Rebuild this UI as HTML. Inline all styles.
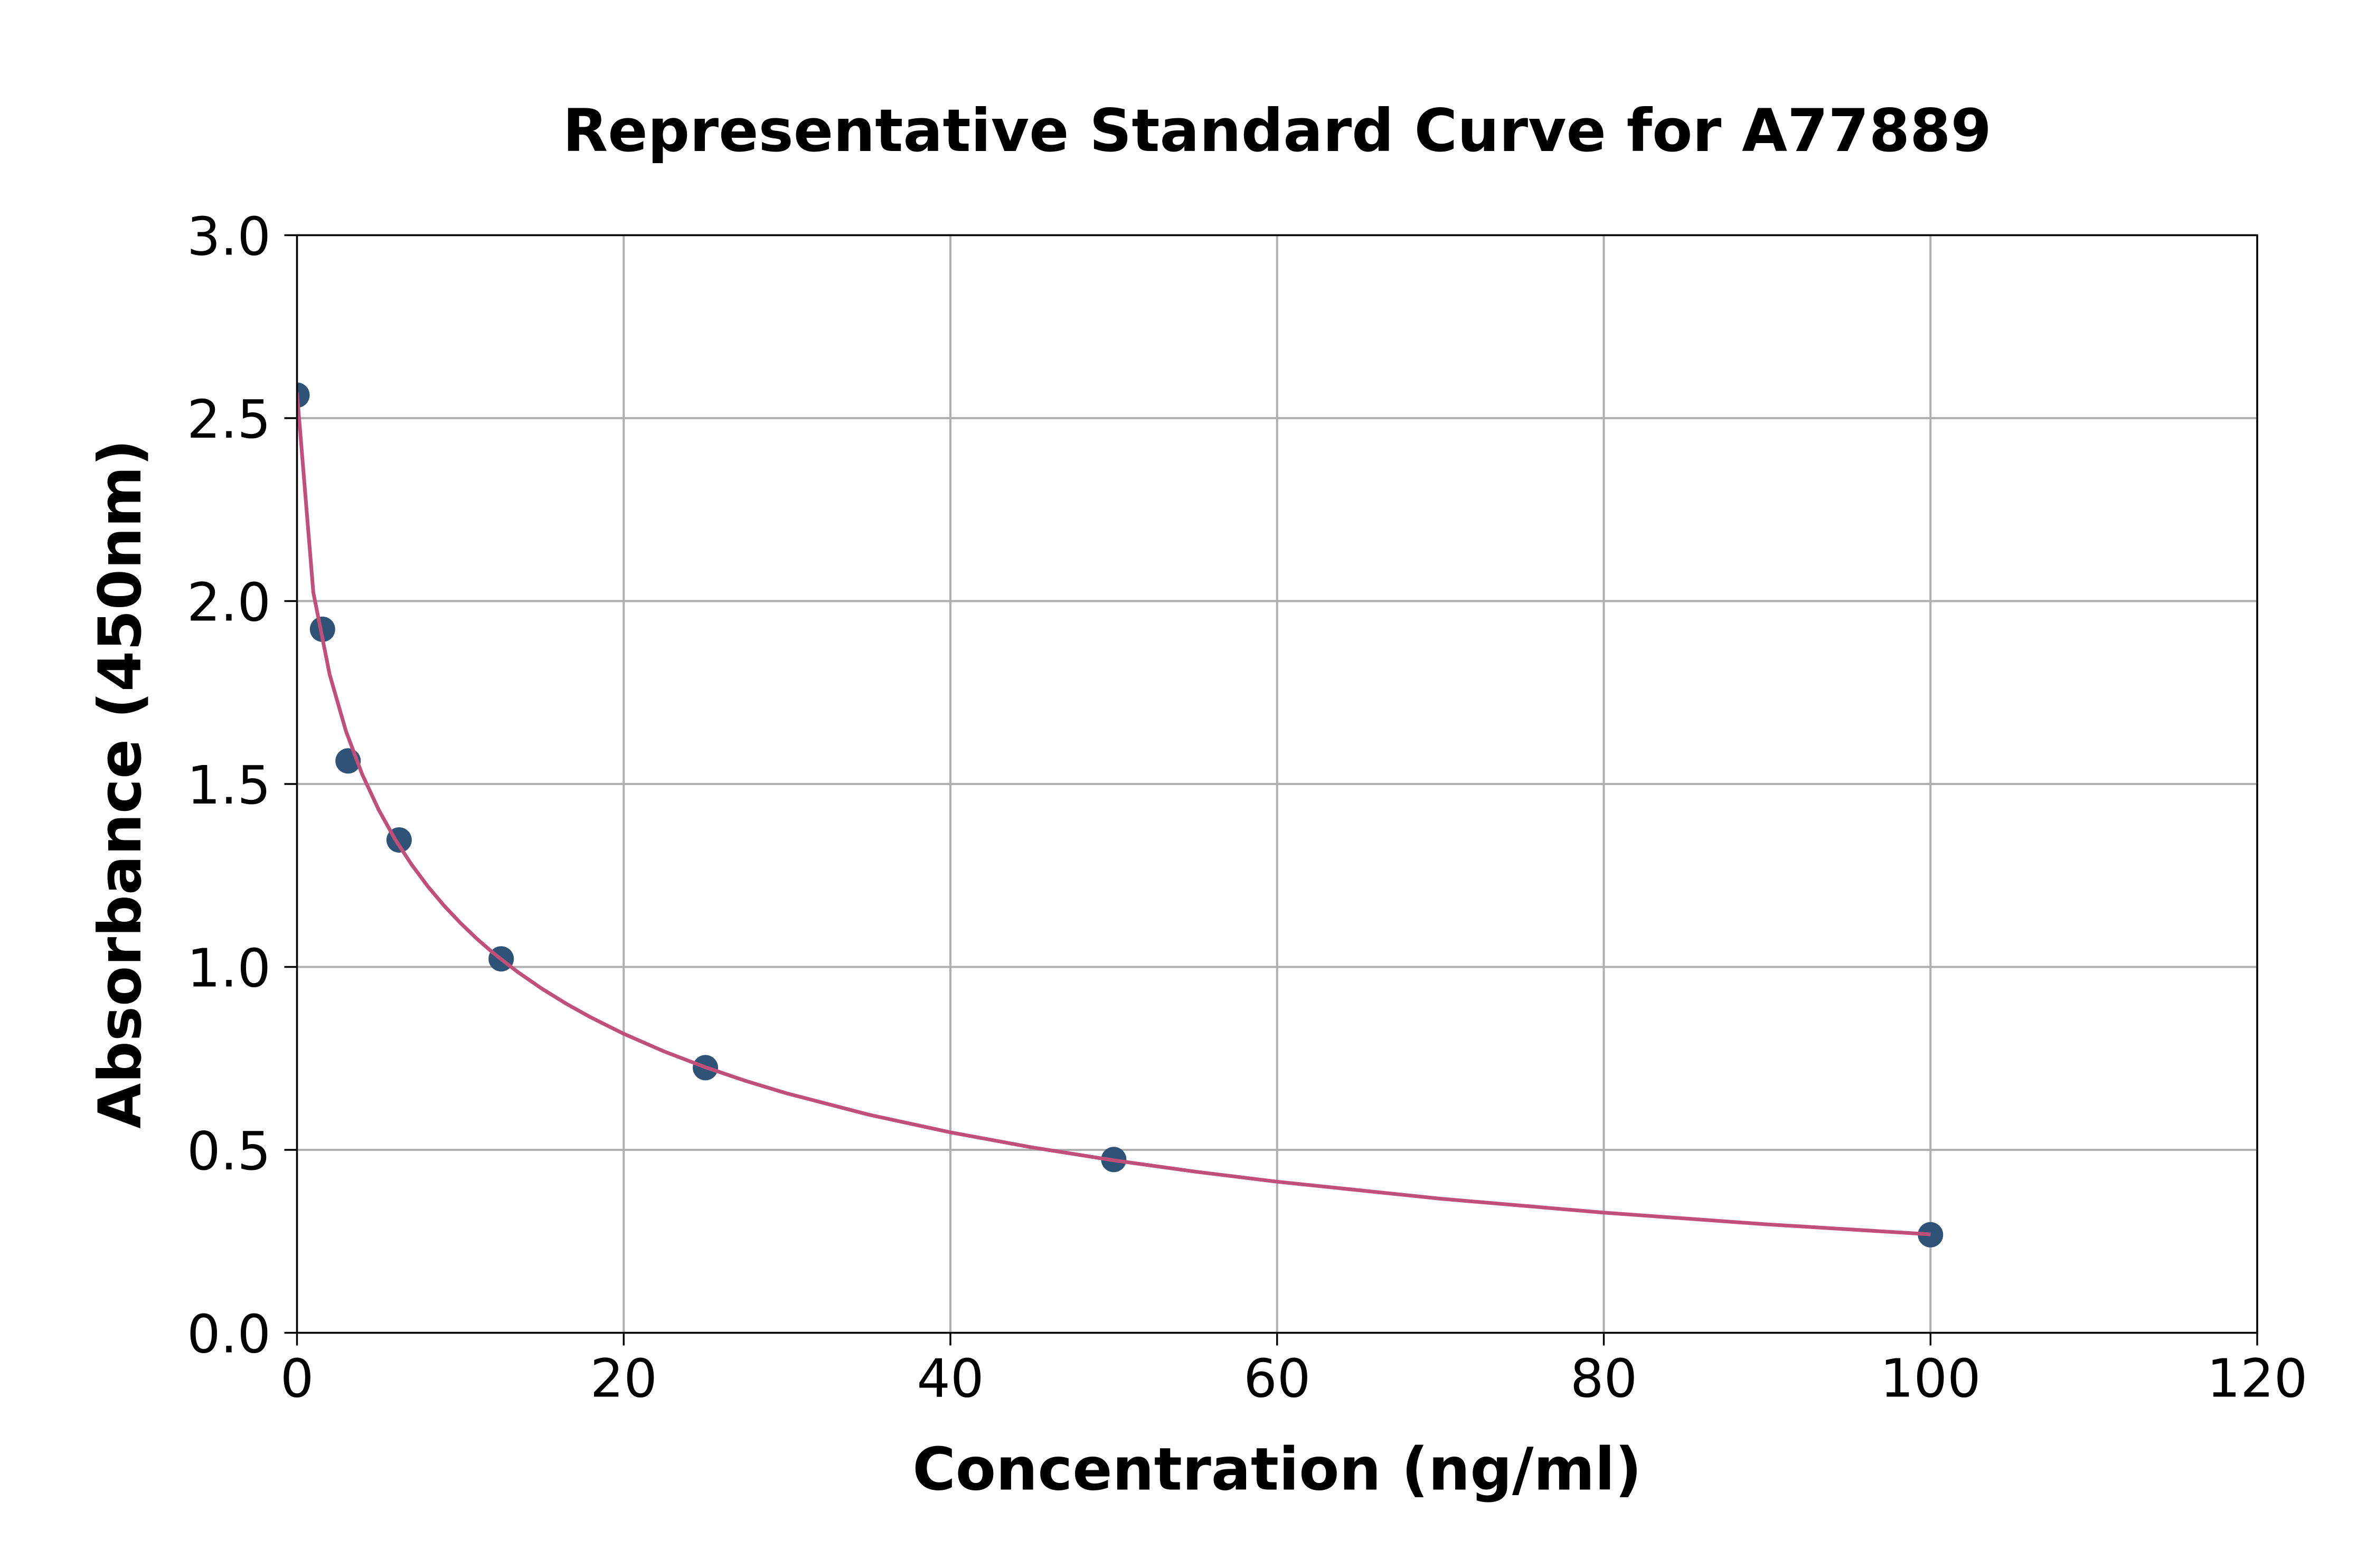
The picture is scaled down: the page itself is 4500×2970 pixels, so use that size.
<!DOCTYPE html>
<html>
<head>
<meta charset="utf-8">
<style>
  html, body { margin: 0; padding: 0; background: #ffffff; }
  body { width: 4500px; height: 2970px; overflow: hidden; }
  svg { display: block; }
  text { font-family: "DejaVu Sans", "Liberation Sans", sans-serif; fill: #000; }
</style>
</head>
<body>
<svg width="4500" height="2970" viewBox="0 0 4500 2970" xmlns="http://www.w3.org/2000/svg">
  <rect x="0" y="0" width="4500" height="2970" fill="#ffffff"/>
  <defs>
    <clipPath id="plot">
      <rect x="562.5" y="445.5" width="3712.5" height="2079"/>
    </clipPath>
  </defs>

  <!-- grid -->
  <g stroke="#afafaf" stroke-width="4" fill="none">
    <line x1="562.5" y1="445.5" x2="562.5" y2="2524.5"/>
    <line x1="1181.25" y1="445.5" x2="1181.25" y2="2524.5"/>
    <line x1="1800" y1="445.5" x2="1800" y2="2524.5"/>
    <line x1="2418.75" y1="445.5" x2="2418.75" y2="2524.5"/>
    <line x1="3037.5" y1="445.5" x2="3037.5" y2="2524.5"/>
    <line x1="3656.25" y1="445.5" x2="3656.25" y2="2524.5"/>
    <line x1="4275" y1="445.5" x2="4275" y2="2524.5"/>
    <line x1="562.5" y1="2524.5" x2="4275" y2="2524.5"/>
    <line x1="562.5" y1="2178" x2="4275" y2="2178"/>
    <line x1="562.5" y1="1831.5" x2="4275" y2="1831.5"/>
    <line x1="562.5" y1="1485" x2="4275" y2="1485"/>
    <line x1="562.5" y1="1138.5" x2="4275" y2="1138.5"/>
    <line x1="562.5" y1="792" x2="4275" y2="792"/>
    <line x1="562.5" y1="445.5" x2="4275" y2="445.5"/>
  </g>

  <!-- data markers -->
  <g clip-path="url(#plot)" fill="#2f5377">
    <circle cx="562.5" cy="748.4" r="24"/>
    <circle cx="610.8" cy="1191.9" r="24"/>
    <circle cx="659.2" cy="1441.3" r="24"/>
    <circle cx="755.9" cy="1591.0" r="24"/>
    <circle cx="949.2" cy="1816.2" r="24"/>
    <circle cx="1336.0" cy="2022.3" r="24"/>
    <circle cx="2109.4" cy="2196.3" r="24"/>
    <circle cx="3656.25" cy="2338.8" r="24"/>
  </g>

  <!-- fitted curve -->
  <polyline clip-path="url(#plot)" fill="none" stroke="#c0507a" stroke-width="7" stroke-linejoin="round" stroke-linecap="butt"
    points="562.5,743.5 593.4,1122.2 624.4,1277.8 655.3,1385.1 686.25,1467.3 717.2,1533.8 748.1,1589.4 779.1,1637.0 810.0,1678.6 840.9,1715.3 871.9,1748.1 902.8,1777.8 933.75,1804.7 980.2,1840.9 1026.6,1872.9 1073.0,1901.5 1119.4,1927.3 1181.25,1958.1 1258.6,1991.9 1336.0,2021.5 1413.3,2047.7 1490.6,2071.1 1645.3,2111.3 1800,2144.8 1954.7,2173.3 2109.4,2197.8 2264.1,2219.3 2418.75,2238.3 2728.1,2270.5 3037.5,2296.9 3346.9,2319.1 3656.25,2338.0"/>

  <!-- spines -->
  <rect x="562.5" y="445.5" width="3712.5" height="2079" fill="none" stroke="#000" stroke-width="3.4"/>

  <!-- ticks -->
  <g stroke="#000" stroke-width="3.4">
    <line x1="538.5" y1="2524.5" x2="562.5" y2="2524.5"/>
    <line x1="538.5" y1="2178" x2="562.5" y2="2178"/>
    <line x1="538.5" y1="1831.5" x2="562.5" y2="1831.5"/>
    <line x1="538.5" y1="1485" x2="562.5" y2="1485"/>
    <line x1="538.5" y1="1138.5" x2="562.5" y2="1138.5"/>
    <line x1="538.5" y1="792" x2="562.5" y2="792"/>
    <line x1="538.5" y1="445.5" x2="562.5" y2="445.5"/>
    <line x1="562.5" y1="2524.5" x2="562.5" y2="2548.5"/>
    <line x1="1181.25" y1="2524.5" x2="1181.25" y2="2548.5"/>
    <line x1="1800" y1="2524.5" x2="1800" y2="2548.5"/>
    <line x1="2418.75" y1="2524.5" x2="2418.75" y2="2548.5"/>
    <line x1="3037.5" y1="2524.5" x2="3037.5" y2="2548.5"/>
    <line x1="3656.25" y1="2524.5" x2="3656.25" y2="2548.5"/>
    <line x1="4275" y1="2524.5" x2="4275" y2="2548.5"/>
  </g>

  <!-- y tick labels -->
  <g font-size="100" text-anchor="end">
    <text x="513" y="2561.7">0.0</text>
    <text x="513" y="2215.2">0.5</text>
    <text x="513" y="1868.7">1.0</text>
    <text x="513" y="1522.2">1.5</text>
    <text x="513" y="1175.7">2.0</text>
    <text x="513" y="829.2">2.5</text>
    <text x="513" y="482.7">3.0</text>
  </g>

  <!-- x tick labels -->
  <g font-size="100" text-anchor="middle">
    <text x="562.5" y="2645.7">0</text>
    <text x="1181.25" y="2645.7">20</text>
    <text x="1800" y="2645.7">40</text>
    <text x="2418.75" y="2645.7">60</text>
    <text x="3037.5" y="2645.7">80</text>
    <text x="3656.25" y="2645.7">100</text>
    <text x="4275" y="2645.7">120</text>
  </g>

  <!-- title and axis labels -->
  <text x="2418.75" y="286" font-size="111.2" font-weight="bold" text-anchor="middle">Representative Standard Curve for A77889</text>
  <text x="2418.75" y="2821.7" font-size="111.2" font-weight="bold" text-anchor="middle">Concentration (ng/ml)</text>
  <text transform="translate(266,1485) rotate(-90)" font-size="111.2" font-weight="bold" text-anchor="middle">Absorbance (450nm)</text>
</svg>
</body>
</html>
